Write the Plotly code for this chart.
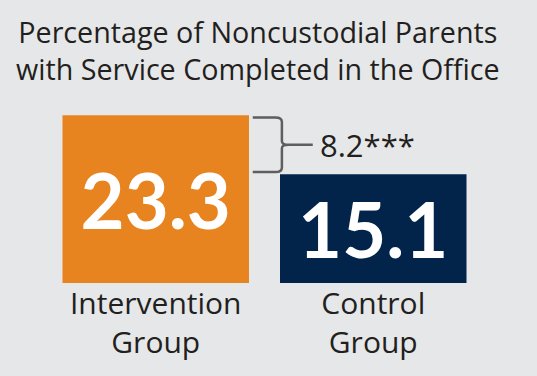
import plotly.graph_objects as go

categories = ["Intervention<br>Group", "Control<br>Group"]
values = [23.3, 15.1]
value_labels = ["23.3", "15.1"]
colors = ["#E8841F", "#03244A"]
difference_label = "8.2***"
title_lines = ["Percentage of Noncustodial Parents", "with Service Completed in the Office"]

BG = "#E6E7E8"
FONT = "Open Sans"
TXT = "#231F20"

fig = go.Figure()
fig.add_trace(go.Bar(
    x=[0, 1], y=values, marker=dict(color=colors, line=dict(width=0)),
    text=value_labels, textposition="inside", insidetextanchor="middle",
    textfont=dict(family="Lato", size=76, color="white", weight="bold"),
    constraintext="none", cliponaxis=False, hoverinfo="skip",
))

top, bot = values[0], values[1]
mid = (top + bot) / 2
path = (f"M 0.446 {top - 0.3} L 0.55 {top - 0.3} Q 0.58 {top - 0.3} 0.58 {top - 0.9} "
        f"L 0.58 {mid + 0.5} Q 0.58 {mid} 0.61 {mid} L 0.722 {mid} "
        f"M 0.61 {mid} Q 0.58 {mid} 0.58 {mid - 0.5} "
        f"L 0.58 {bot + 0.9} Q 0.58 {bot + 0.3} 0.55 {bot + 0.3} L 0.446 {bot + 0.3}")
fig.add_shape(type="path", path=path, xref="x", yref="y",
              line=dict(color="#5E5E5E", width=2.5))
fig.add_annotation(x=0.745, y=mid, xref="x", yref="y", text=difference_label,
                   showarrow=False, xanchor="left", yanchor="middle",
                   font=dict(family=FONT, size=31, color=TXT))

fig.add_annotation(x=0.4845, y=1.0, xref="paper", yref="paper", yshift=57,
                   text="<br>".join(title_lines), showarrow=False,
                   xanchor="center", yanchor="top",
                   font=dict(family=FONT, size=28.7, color=TXT))

fig.update_layout(
    width=537, height=376,
    margin=dict(l=47, r=55, t=67, b=93),
    paper_bgcolor=BG, plot_bgcolor=BG,
    bargap=0.1425, showlegend=False,
    xaxis=dict(range=[-0.5, 1.5], tickvals=[0, 1], ticktext=categories,
               showgrid=False, zeroline=False, showline=False, ticks="",
               tickfont=dict(family=FONT, size=30, color=TXT)),
    yaxis=dict(range=[0, 30], visible=False, showgrid=False, zeroline=False),
)
fig.write_html("out.html", config={"displayModeBar": False},
               post_script="document.body.style.margin='0';")
